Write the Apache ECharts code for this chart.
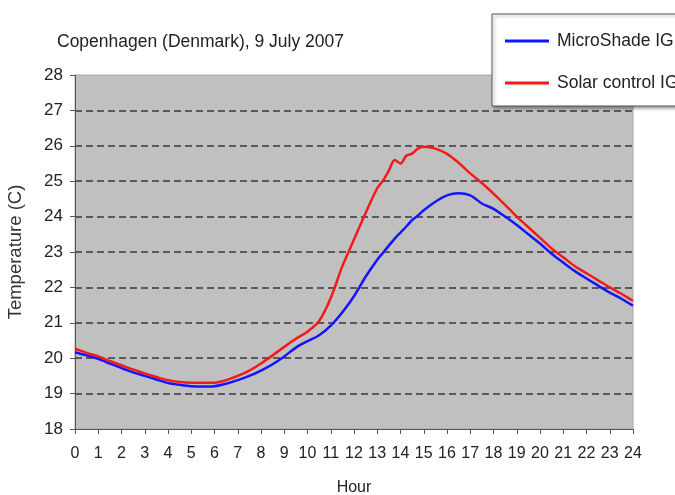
<!DOCTYPE html>
<html>
<head>
<meta charset="utf-8">
<script src="https://cdn.jsdelivr.net/npm/echarts@6/dist/echarts.min.js"></script>
<style>html,body{margin:0;padding:0;background:#fff;}#c{width:675px;height:495px;}</style>
</head>
<body>
<div id="c"></div>
<script>
const titleText = 'Copenhagen (Denmark), 9 July 2007';
const seriesNames = ['MicroShade IG', 'Solar control IG'];
const hours = [0,0.5,1,1.5,2,2.5,3,3.5,4,4.5,5,5.5,6,6.5,7,7.5,8,8.5,9,9.5,10,10.5,11,11.5,12,12.5,13,13.25,13.5,13.75,14,14.25,14.5,14.75,15,15.5,16,16.5,17,17.5,18,18.5,19,19.5,20,20.5,21,21.5,22,22.5,23,23.5,24];
const microShade = [20.17,20.08,19.98,19.85,19.72,19.6,19.5,19.4,19.3,19.25,19.21,19.2,19.21,19.28,19.38,19.5,19.65,19.83,20.05,20.3,20.48,20.65,20.92,21.3,21.75,22.3,22.78,22.98,23.18,23.38,23.55,23.72,23.9,24.03,24.18,24.42,24.6,24.66,24.6,24.37,24.22,24.0,23.76,23.5,23.24,22.95,22.7,22.46,22.25,22.05,21.85,21.68,21.48];
const solarControl = [20.27,20.15,20.05,19.92,19.8,19.68,19.57,19.47,19.38,19.33,19.31,19.31,19.31,19.38,19.5,19.65,19.85,20.08,20.32,20.55,20.75,21.05,21.7,22.6,23.35,24.1,24.8,25.02,25.3,25.6,25.5,25.72,25.78,25.92,25.97,25.92,25.77,25.52,25.22,24.95,24.65,24.33,24.0,23.7,23.4,23.1,22.85,22.6,22.4,22.2,22.0,21.82,21.62];

const font = 'Liberation Sans, Arial, sans-serif';
const chart = echarts.init(document.getElementById('c'), null, {renderer: 'canvas'});
chart.setOption({
  animation: false,
  backgroundColor: '#ffffff',
  title: {
    text: titleText, left: 52, top: 28,
    textStyle: {fontFamily: font, fontSize: 17.5, fontWeight: 'normal', color: '#222'}
  },
  legend: {
    orient: 'vertical', left: 492, top: 14,
    padding: [18, 80, 14, 13],
    itemGap: 24, itemWidth: 44, itemHeight: 3,
    icon: 'rect',
    borderColor: '#555', borderWidth: 1, backgroundColor: '#fff',
    shadowColor: 'rgba(0,0,0,0.35)', shadowBlur: 3, shadowOffsetX: 2, shadowOffsetY: 2,
    textStyle: {fontFamily: font, fontSize: 17.5, color: '#222', padding: [0, 0, 0, 3]},
    data: seriesNames
  },
  grid: {
    left: 75, right: 42, top: 75, bottom: 66,
    outerBoundsMode: 'none', containLabel: false,
    show: true, backgroundColor: '#c0c0c0', borderColor: '#a8a8a8', borderWidth: 1
  },
  xAxis: {
    type: 'value', min: 0, max: 24, interval: 1,
    name: 'Hour', nameLocation: 'middle', nameGap: 51,
    nameTextStyle: {fontFamily: font, fontSize: 16, color: '#222'},
    axisLine: {show: true, onZero: false, lineStyle: {color: '#555', width: 1}},
    axisTick: {show: true, length: 5, lineStyle: {color: '#555'}},
    axisLabel: {fontFamily: font, fontSize: 16, color: '#222', margin: 17},
    splitLine: {show: false}
  },
  yAxis: {
    type: 'value', min: 18, max: 28, interval: 1,
    name: 'Temperature (C)', nameLocation: 'middle', nameGap: 50, nameRotate: 90,
    nameTextStyle: {fontFamily: font, fontSize: 18.5, color: '#333'},
    axisLine: {show: true, lineStyle: {color: '#555', width: 1}},
    axisTick: {show: true, length: 5, lineStyle: {color: '#555'}},
    axisLabel: {fontFamily: font, fontSize: 17, color: '#222', margin: 12},
    splitLine: {show: true, showMinLine: false, showMaxLine: false,
      lineStyle: {color: '#5a5a5a', width: 2, type: [7, 4]}}
  },
  series: [
    {
      name: seriesNames[0], type: 'line', showSymbol: false, smooth: 0.3,
      data: hours.map((h, i) => [h, microShade[i]]),
      lineStyle: {color: '#1414ff', width: 2.5}, itemStyle: {color: '#1414ff'}, z: 3
    },
    {
      name: seriesNames[1], type: 'line', showSymbol: false, smooth: 0.3,
      data: hours.map((h, i) => [h, solarControl[i]]),
      lineStyle: {color: '#f51a1a', width: 2.5}, itemStyle: {color: '#f51a1a'}, z: 4
    }
  ]
});
</script>
</body>
</html>
